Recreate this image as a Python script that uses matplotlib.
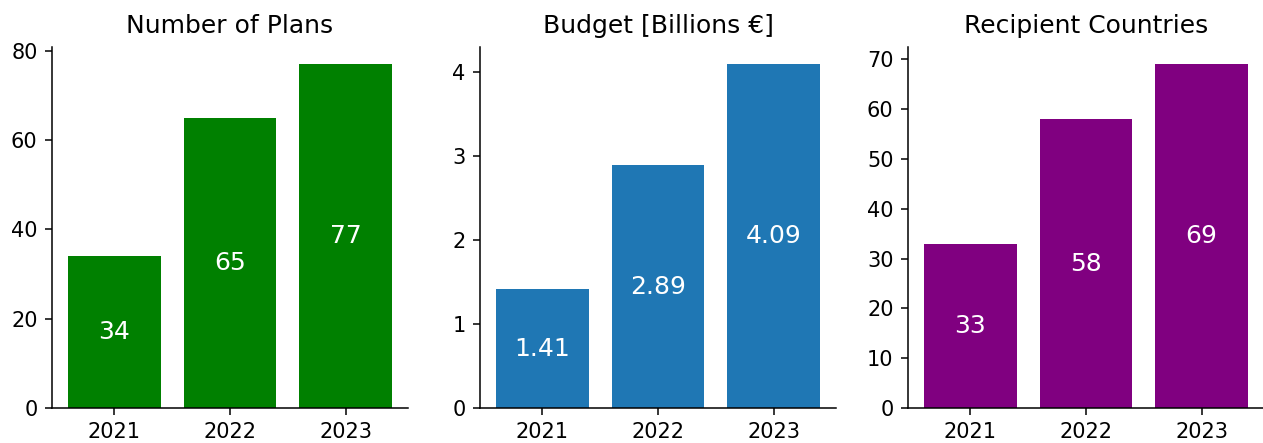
import matplotlib
matplotlib.use("Agg")
import matplotlib.pyplot as plt
from matplotlib.ticker import MultipleLocator

# -------------------------- data --------------------------
years = ["2021", "2022", "2023"]
plans = [34, 65, 77]
budget = [1.41, 2.89, 4.09]
countries = [33, 58, 69]

titles = ["Number of Plans", "Budget [Billions €]", "Recipient Countries"]
colors = ["green", "#1f77b4", "purple"]
series = [plans, budget, countries]
label_fmt = ["{:.0f}", "{:.2f}", "{:.0f}"]
tick_steps = [20, 1, 10]

# -------------------------- figure --------------------------
fig = plt.figure(figsize=(12.63, 4.43), dpi=100)
lefts = [52, 480, 908]
for i in range(3):
    ax = fig.add_axes([lefts[i] / 1263, 35 / 443, 356 / 1263, 361 / 443])
    bars = ax.bar(years, series[i], color=colors[i])
    for rect, v in zip(bars, series[i]):
        ax.text(rect.get_x() + rect.get_width() / 2, v / 2, label_fmt[i].format(v),
                ha="center", va="center", color="white", fontsize=18)
    ax.set_title(titles[i], fontsize=18, pad=10)
    ax.yaxis.set_major_locator(MultipleLocator(tick_steps[i]))
    ax.spines["top"].set_visible(False)
    ax.spines["right"].set_visible(False)
    for s in ["left", "bottom"]:
        ax.spines[s].set_linewidth(1.1)
    ax.tick_params(labelsize=15, length=4.9, width=1.1, pad=5.5)

fig.savefig("out.png", dpi=100)
